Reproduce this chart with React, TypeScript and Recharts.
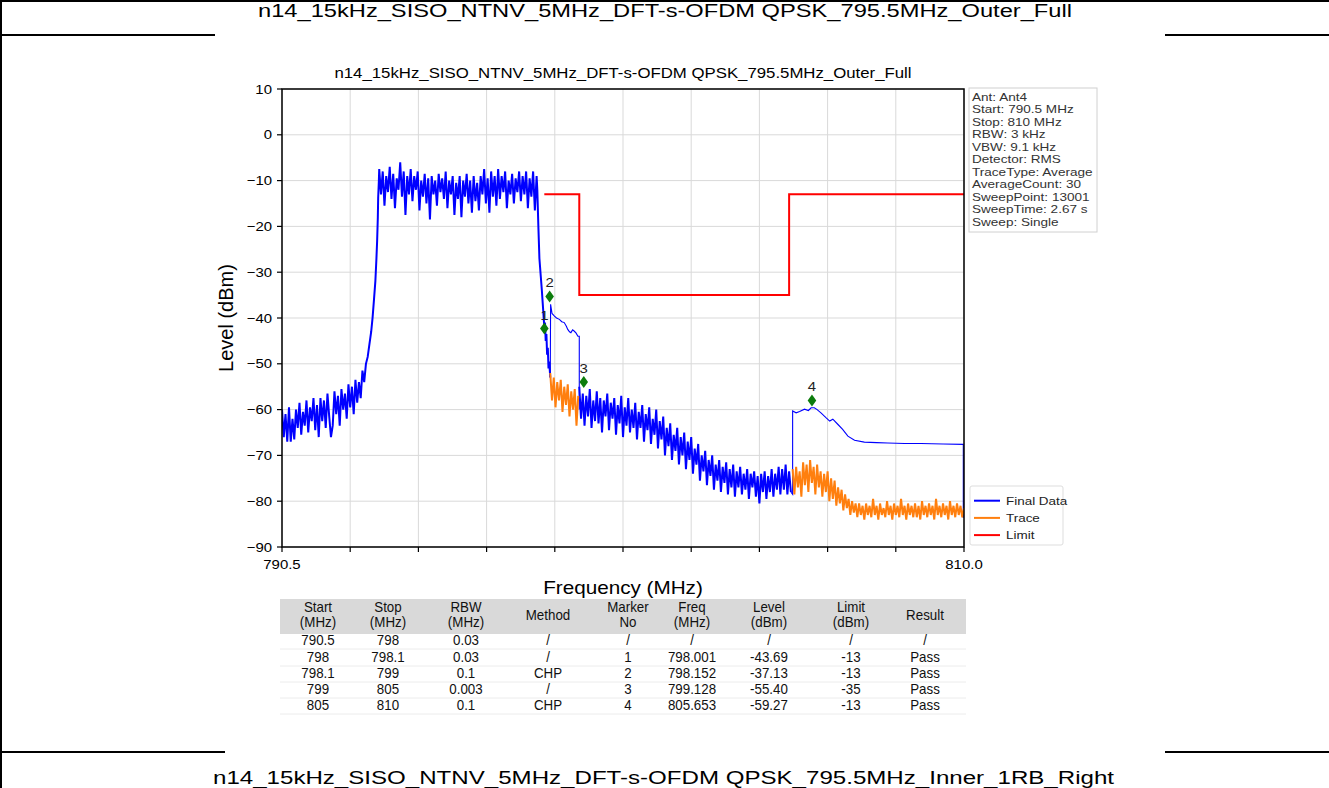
import React from 'react';
import { ComposedChart, Line, Scatter, XAxis, YAxis, CartesianGrid } from 'recharts';

// ---------- data ----------
const xTicks = [790.5, 792.45, 794.4, 796.35, 798.3, 800.25, 802.2, 804.15, 806.1, 808.05, 810.0];
const xTickLabels = ['790.5', '', '', '', '', '', '', '', '', '', '810.0'];
const yTicks = [10, 0, -10, -20, -30, -40, -50, -60, -70, -80, -90];
const yTickLabels = ['10', '0', '\u221210', '\u221220', '\u221230', '\u221240', '\u221250', '\u221260', '\u221270', '\u221280', '\u221290'];

// Final Data: lower skirt noise 790.50 .. 792.85 (0.05 MHz steps)
const skirtStart = 790.5;
const skirtLevels = [-60, -66, -61, -67, -59.5, -67, -62, -66.5, -60, -64, -58.5, -65.5, -60.5, -63.5, -58, -65, -59.5, -62.5, -57.5, -64.5, -59, -66, -57.5, -62.5, -58, -64, -56.5, -61.5, -66, -63.5, -56, -61, -57, -63.5, -55.5, -60, -56.5, -62, -54.5, -59.5, -55, -61, -53.5, -58.5, -54, -57.5, -51.5, -54];

// Final Data: rising edge
const riseFreq = [792.9, 792.95, 793.0, 793.05, 793.09, 793.13, 793.17, 793.2, 793.22, 793.24, 793.25, 793.27];
const riseLevel = [-50, -48.5, -45.7, -43, -39.9, -36, -31.9, -27, -23.2, -18, -13.7, -10];

// Final Data: in-channel noise 793.28 .. 797.78
const bandStart = 793.28;
const bandLevels = [-7.5, -13, -8, -15.5, -9, -12.5, -7, -14, -8.5, -16, -9.5, -12, -6, -13.5, -8, -17.5, -9, -13, -7.5, -14.5, -9, -12, -8, -16.5, -10, -13.5, -8.5, -15, -9.5, -18.5, -9, -13, -10, -15.5, -8.5, -12.5, -9.5, -14, -8, -16, -10, -13, -9, -17.5, -10.5, -14, -9, -18, -10, -13.5, -8.5, -15, -10, -17, -9, -14.5, -10.5, -16.5, -9, -13, -7.5, -15, -9.5, -17, -8, -13.5, -9, -15.5, -7.5, -14, -9, -12.5, -8, -16, -10, -13, -8.5, -15, -9.5, -12.5, -8, -14.5, -9, -13, -8, -16, -9.5, -13.5, -8, -16.5, -9];

// Final Data: falling edge
const fallFreq = [797.8, 797.83, 797.86, 797.9, 797.93, 797.97, 798.0, 798.02, 798.04, 798.06, 798.08, 798.1, 798.12, 798.14, 798.17];
const fallLevel = [-12, -20, -27, -31, -34, -38.5, -42, -41, -45, -43.5, -48, -46.5, -51, -49.5, -53];

// Final Data: channel power result 798.1 .. 799
const chpFreq = [798.17, 798.18, 798.22, 798.29, 798.35, 798.43, 798.5, 798.57, 798.63, 798.67, 798.72, 798.76, 798.81, 798.86, 798.91, 798.96, 799.0, 799.0];
const chpLevel = [-53, -37, -39, -39.6, -40, -40.3, -40.8, -41, -41.8, -42.5, -43, -43.2, -42.6, -42.9, -43.3, -44, -44, -60];

// Final Data: spurious noise 799.00 .. 805.05
const spurStart = 799.0;
const spurLevels = [-55, -62, -56.5, -63.5, -57, -61.5, -55.5, -64, -58, -62.5, -56, -63, -57.5, -65, -58, -61.5, -56.5, -64.5, -58.5, -62, -57.5, -65.5, -59, -63, -57, -66, -59.5, -63.5, -57.5, -65, -60, -64, -58.5, -66.5, -60.5, -64, -59, -67, -61, -64.5, -59.5, -67.5, -62, -65.5, -60, -68.5, -62.5, -66.5, -61.5, -70, -64, -68, -63, -71, -65.5, -69, -64, -72, -66, -70, -65, -73, -67, -71, -66, -74, -68.5, -72, -67.5, -75.5, -70, -73.5, -69, -76.5, -71, -74.5, -70, -77.5, -72, -75.5, -71, -78, -72.5, -76, -71.5, -78.5, -73, -77, -72, -79, -73.5, -77, -72.5, -78.5, -74, -77.5, -73, -79.5, -74, -77, -73.5, -79, -74.5, -80.5, -74, -78, -73.5, -79.5, -74.5, -78, -73, -79, -74, -77.5, -72.5, -78.5, -73, -77.5, -72, -78.5, -73.5, -78];

// Final Data: channel power result 805 .. 810
const chp2Freq = [805.05, 805.1, 805.1, 805.2, 805.3, 805.44, 805.55, 805.63, 805.72, 805.8, 805.91, 806.06, 806.16, 806.25, 806.39, 806.53, 806.68, 806.87, 807.15, 807.5, 807.82, 808.3, 808.77, 809.4, 809.98, 809.98];
const chp2Level = [-78, -78.5, -60.3, -60.7, -60.4, -59.9, -60.2, -59.6, -59.6, -60, -60.7, -61.8, -62.5, -62.1, -63.2, -64.3, -65.8, -66.7, -67.1, -67.2, -67.3, -67.4, -67.4, -67.5, -67.6, -83.6];

// Trace (orange)
const traceAStart = 798.17;
const traceALevels = [-52, -58, -53, -59.5, -54, -58, -53.5, -60.5, -55, -59, -54.5, -61.5, -56, -60, -55.5, -63.5, -57];
const traceBStart = 805.1;
const traceBLevels = [-73, -78.5, -72.5, -77, -73.5, -79, -71.5, -76.5, -72, -78, -71, -76, -72.5, -78.5, -72, -77, -73.5, -79, -74, -78, -73.5, -80, -75, -79.5, -75.5, -81, -77, -80.5, -77.5, -82, -78.5, -81.5, -79.5, -83, -80, -82.5, -80.5, -83.5, -80.5, -83, -81, -84, -80.5, -83, -81, -83.5, -79.5, -83, -81, -84, -80.5, -83, -81.5, -83.5, -80, -83, -81, -84, -80.5, -83, -81, -83.5, -79.5, -83, -81, -84, -80.5, -83, -81, -83.5, -80.5, -83.5, -81, -84, -80, -83, -81, -83.5, -80.5, -83, -81, -84, -79.5, -83, -81, -83.5, -80.5, -83, -81, -84, -80, -83, -81, -83.5, -80.5, -83, -81, -83.5, -81.5];
const sweepStep = 0.05;

// Limit
const limitFreq = [798.0, 799.0, 799.0, 805.0, 805.0, 810.0];
const limitLevel = [-13, -13, -35, -35, -13, -13];

// Markers
const markerNo = [1, 2, 3, 4];
const markerFreq = [798.001, 798.152, 799.128, 805.653];
const markerLevel = [-42.3, -35.3, -54.0, -58.0];

// Info box
const infoLines = ['Ant: Ant4', 'Start: 790.5 MHz', 'Stop: 810 MHz', 'RBW: 3 kHz', 'VBW: 9.1 kHz', 'Detector: RMS', 'TraceType: Average', 'AverageCount: 30', 'SweepPoint: 13001', 'SweepTime: 2.67 s', 'Sweep: Single'];

// Legend
const legendNames = ['Final Data', 'Trace', 'Limit'];
const legendColors = ['#0000ff', '#ff7f0e', '#ff0000'];

// Table
const tableHeader = [['Start', '(MHz)'], ['Stop', '(MHz)'], ['RBW', '(MHz)'], ['Method'], ['Marker', 'No'], ['Freq', '(MHz)'], ['Level', '(dBm)'], ['Limit', '(dBm)'], ['Result']];
const tableRows = [
  ['790.5', '798', '0.03', '/', '/', '/', '/', '/', '/'],
  ['798', '798.1', '0.03', '/', '1', '798.001', '-43.69', '-13', 'Pass'],
  ['798.1', '799', '0.1', 'CHP', '2', '798.152', '-37.13', '-13', 'Pass'],
  ['799', '805', '0.003', '/', '3', '799.128', '-55.40', '-35', 'Pass'],
  ['805', '810', '0.1', 'CHP', '4', '805.653', '-59.27', '-13', 'Pass'],
];

const pageTitle = 'n14_15kHz_SISO_NTNV_5MHz_DFT-s-OFDM QPSK_795.5MHz_Outer_Full';
const nextTitle = 'n14_15kHz_SISO_NTNV_5MHz_DFT-s-OFDM QPSK_795.5MHz_Inner_1RB_Right';

// ---------- build series ----------
const seq = (start: number, step: number, levels: number[]) =>
  levels.map((v, i) => ({ f: +(start + i * step).toFixed(3), v }));
const pairs = (fs: number[], vs: number[]) => fs.map((f, i) => ({ f, v: vs[i] }));

// Final Data split into its noisy (thick-looking) and averaged (thin) pieces
const finalNoisyLow = [
  ...seq(skirtStart, sweepStep, skirtLevels),
  ...pairs(riseFreq, riseLevel),
  ...seq(bandStart, sweepStep, bandLevels),
  ...pairs(fallFreq, fallLevel),
];
const finalChp = pairs(chpFreq, chpLevel);
const finalSpur = seq(spurStart, sweepStep, spurLevels);
const finalChp2 = pairs(chp2Freq, chp2Level);
const traceA = seq(traceAStart, sweepStep, traceALevels);
const traceB = seq(traceBStart, sweepStep, traceBLevels);
const limitData = pairs(limitFreq, limitLevel);
const markerData = markerNo.map((n, i) => ({ f: markerFreq[i], v: markerLevel[i], n }));

// ---------- layout ----------
const W = 1329, H = 788;
const PL = 282, PR = 964, PT = 89, PB = 547;
const FONT = "'Liberation Sans', Arial, Helvetica, sans-serif";
const SX = 1.15;
const BLUE = '#0000ff', ORANGE = '#ff7f0e', RED = '#ff0000';

function ST(props: any) {
  const { x, y, size, sx = 1, anchor = 'start', fill = '#000', children } = props;
  return (
    <text x={x / sx} y={y} transform={sx !== 1 ? `scale(${sx} 1)` : undefined} fontSize={size}
      textAnchor={anchor} fill={fill} fontFamily={FONT}>{children}</text>
  );
}

const XTick = (props: any) => {
  const { x, index } = props;
  const label = xTickLabels[index] ?? '';
  return (
    <g>
      <line x1={x} x2={x} y1={PB} y2={PB + 5} stroke="#000" strokeWidth={1.2} />
      {label ? <ST x={x} y={PB + 22} size={13} sx={SX} anchor="middle">{label}</ST> : null}
    </g>
  );
};

const YTick = (props: any) => {
  const { y, index } = props;
  return (
    <g>
      <line x1={PL - 5} x2={PL} y1={y} y2={y} stroke="#000" strokeWidth={1.2} />
      <ST x={PL - 10} y={y + 4.7} size={13} sx={SX} anchor="end">{yTickLabels[index]}</ST>
    </g>
  );
};

const Diamond = (props: any) => {
  const { cx, cy, payload } = props;
  if (cx == null || cy == null) return null;
  return (
    <g>
      <polygon points={`${cx},${cy - 6} ${cx + 4.3},${cy} ${cx},${cy + 6} ${cx - 4.3},${cy}`} fill="#0c7c0c" />
      <ST x={cx} y={cy - 9} size={13} sx={SX} anchor="middle" fill="#222">{String(payload.n)}</ST>
    </g>
  );
};

export default function App() {
  const colX = [318, 388, 466, 548, 628, 692, 769, 851, 925];
  const rowY = [645, 662, 678, 694, 710];
  return (
    <div style={{ position: 'absolute', left: 0, top: 0, width: W, height: H, background: '#fff', overflow: 'hidden' }}>
      <div style={{ position: 'absolute', left: 0, top: 0 }}>
        <ComposedChart width={W} height={H} margin={{ top: PT, right: W - PR, bottom: H - PB - 30, left: PL - 60 }}>
          <CartesianGrid stroke="#d9d9d9" strokeWidth={1} />
          <XAxis dataKey="f" type="number" domain={[790.5, 810]} ticks={xTicks} interval={0}
            allowDataOverflow tick={<XTick />} tickLine={false} axisLine={false} height={30} />
          <YAxis type="number" domain={[-90, 10]} ticks={yTicks} interval={0} allowDataOverflow
            tick={<YTick />} tickLine={false} axisLine={false} width={60} />
          <Line data={finalNoisyLow} dataKey="v" type="linear" stroke={BLUE} strokeWidth={2} dot={false} isAnimationActive={false} />
          <Line data={finalChp} dataKey="v" type="linear" stroke={BLUE} strokeWidth={1.1} dot={false} isAnimationActive={false} />
          <Line data={finalSpur} dataKey="v" type="linear" stroke={BLUE} strokeWidth={2} dot={false} isAnimationActive={false} />
          <Line data={finalChp2} dataKey="v" type="linear" stroke={BLUE} strokeWidth={1.1} dot={false} isAnimationActive={false} />
          <Line data={traceA} dataKey="v" type="linear" stroke={ORANGE} strokeWidth={2} dot={false} isAnimationActive={false} />
          <Line data={traceB} dataKey="v" type="linear" stroke={ORANGE} strokeWidth={2} dot={false} isAnimationActive={false} />
          <Line data={limitData} dataKey="v" type="linear" stroke={RED} strokeWidth={2} dot={false} isAnimationActive={false} />
          <Scatter data={markerData} dataKey="v" shape={<Diamond />} isAnimationActive={false} />
        </ComposedChart>
      </div>
      <svg width={W} height={H} style={{ position: 'absolute', left: 0, top: 0, pointerEvents: 'none' }}>
        {/* document table borders */}
        <line x1={0} x2={W} y1={1} y2={1} stroke="#000" strokeWidth={2} />
        <line x1={1} x2={1} y1={0} y2={H} stroke="#000" strokeWidth={2} />
        <line x1={0} x2={215} y1={35} y2={35} stroke="#000" strokeWidth={2} />
        <line x1={1165} x2={W} y1={35} y2={35} stroke="#000" strokeWidth={2} />
        <line x1={0} x2={225} y1={752} y2={752} stroke="#000" strokeWidth={2} />
        <line x1={1165} x2={W} y1={752} y2={752} stroke="#000" strokeWidth={2} />
        <text x={258} y={17} fontSize={18} fontFamily={FONT} textLength={814} lengthAdjust="spacingAndGlyphs">{pageTitle}</text>
        <text x={213} y={784} fontSize={18} fontFamily={FONT} textLength={901} lengthAdjust="spacingAndGlyphs">{nextTitle}</text>

        {/* chart title */}
        <ST x={(PL + PR) / 2} y={78} size={14.6} sx={SX} anchor="middle">{pageTitle}</ST>
        {/* plot frame */}
        <rect x={PL} y={PT} width={PR - PL} height={PB - PT} fill="none" stroke="#000" strokeWidth={1.5} />
        {/* axis labels */}
        <text transform={`translate(233 ${(PT + PB) / 2}) rotate(-90)`} textAnchor="middle" fontSize={20} fontFamily={FONT}>Level (dBm)</text>
        <ST x={(PL + PR) / 2} y={594} size={18} sx={SX} anchor="middle">Frequency (MHz)</ST>

        {/* info box */}
        <rect x={969} y={88} width={128} height={144} fill="#fff" stroke="#d0d0d0" strokeWidth={1} />
        {infoLines.map((t, i) => (
          <ST key={t} x={972} y={101 + i * 12.5} size={11.8} sx={SX} fill="#333">{t}</ST>
        ))}

        {/* legend */}
        <rect x={970} y={486} width={93} height={59} rx={2} fill="#fff" stroke="#dddddd" strokeWidth={1} />
        {legendNames.map((name, i) => (
          <g key={name}>
            <line x1={974} x2={1000} y1={500.7 + i * 17.2} y2={500.7 + i * 17.2} stroke={legendColors[i]} strokeWidth={2} />
            <ST x={1006} y={504.7 + i * 17.2} size={11.7} sx={SX} fill="#222">{name}</ST>
          </g>
        ))}

        {/* result table */}
        <rect x={280} y={599} width={686} height={35} fill="#d9d9d9" />
        {rowY.map((ry, i) => (
          <line key={i} x1={280} x2={966} y1={ry + 4} y2={ry + 4} stroke="#ececec" strokeWidth={1} />
        ))}
        {tableHeader.map((h, c) =>
          h.length === 2 ? (
            <g key={c}>
              <ST x={colX[c]} y={612} size={14.5} sx={0.92} anchor="middle" fill="#111">{h[0]}</ST>
              <ST x={colX[c]} y={627} size={14.5} sx={0.92} anchor="middle" fill="#111">{h[1]}</ST>
            </g>
          ) : (
            <ST key={c} x={colX[c]} y={620} size={14.5} sx={0.92} anchor="middle" fill="#111">{h[0]}</ST>
          )
        )}
        {tableRows.map((row, r) =>
          row.map((cell, c) => (
            <ST key={`${r}-${c}`} x={colX[c]} y={rowY[r]} size={14.5} sx={0.92} anchor="middle" fill="#111">{cell}</ST>
          ))
        )}
      </svg>
    </div>
  );
}
